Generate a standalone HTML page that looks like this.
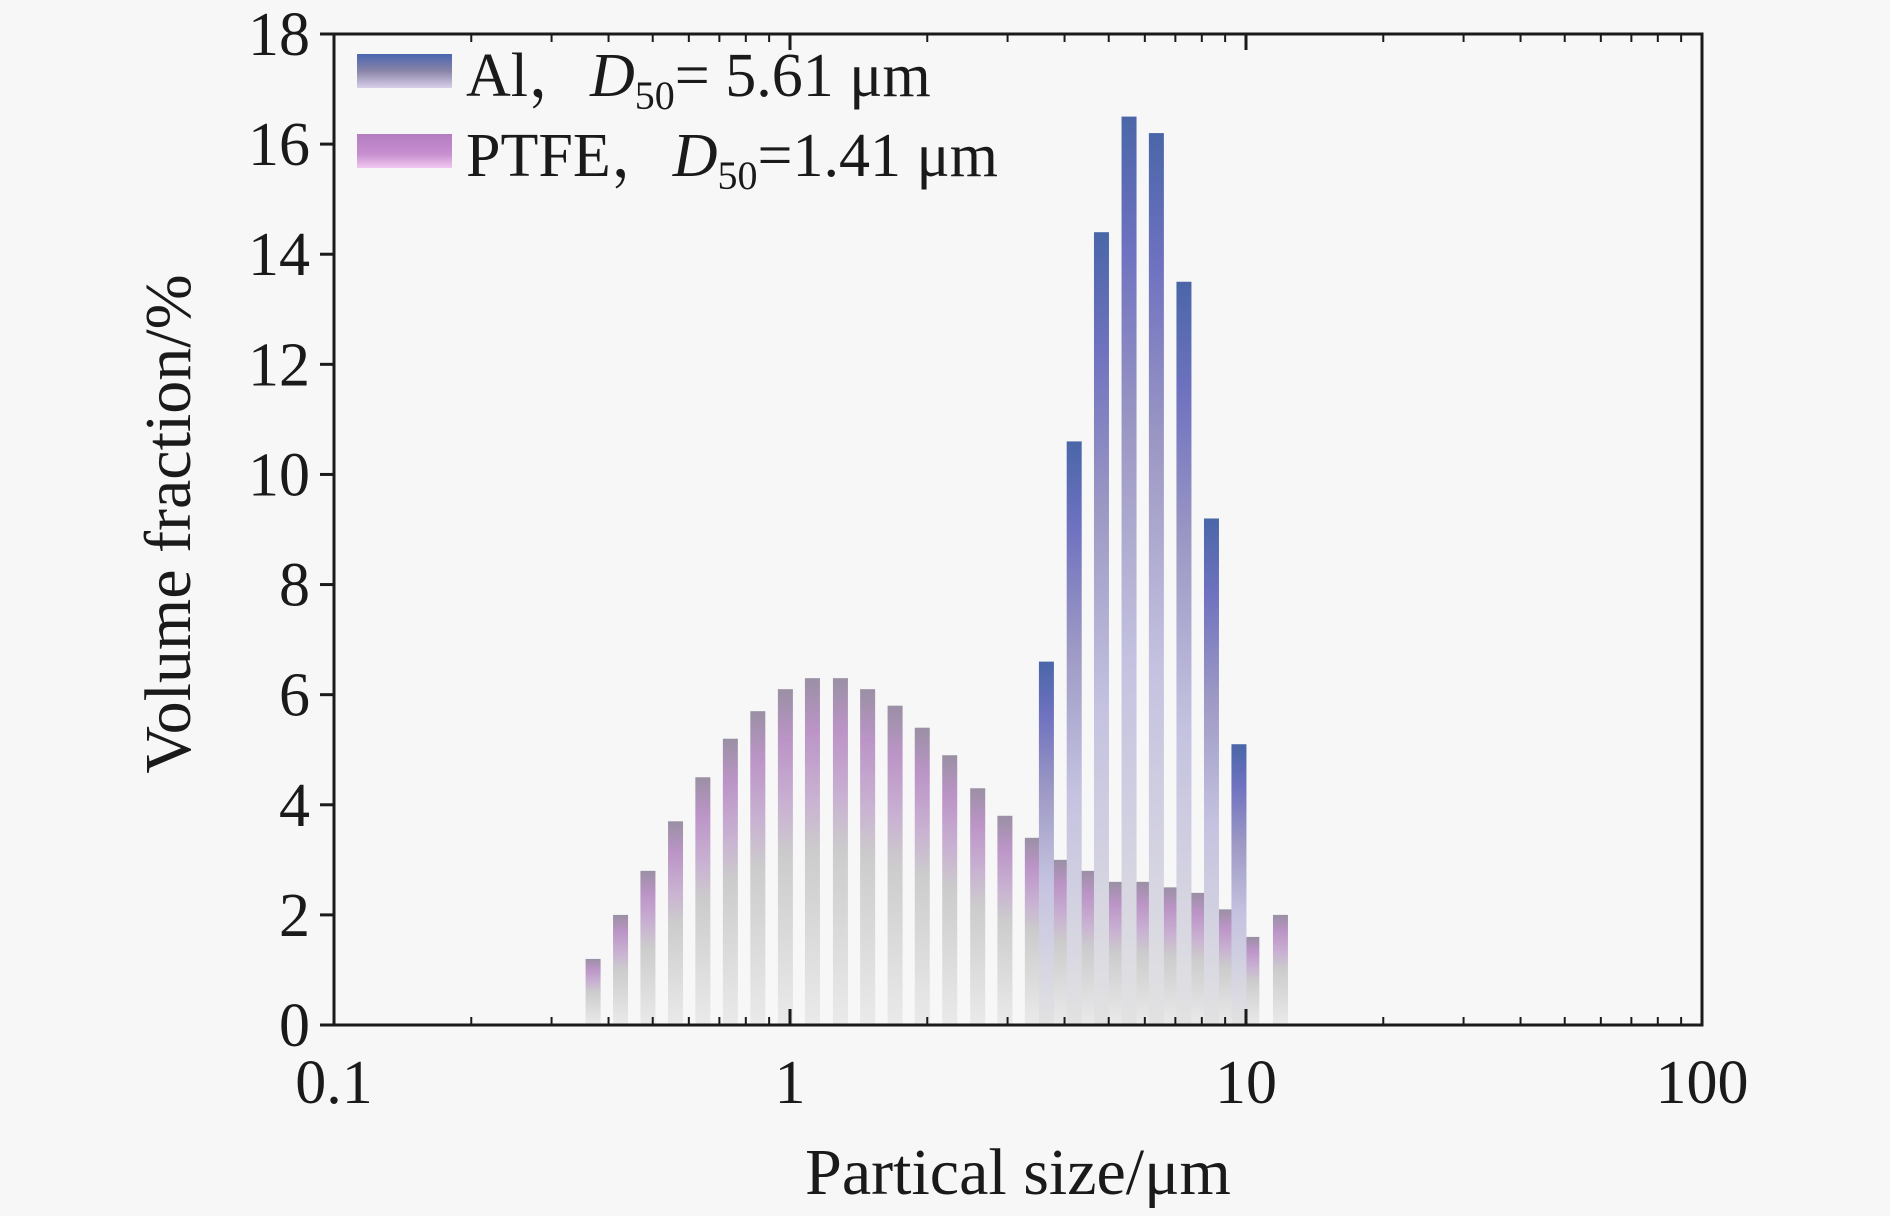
<!DOCTYPE html>
<html><head><meta charset="utf-8"><style>
html,body{margin:0;padding:0;background:#f7f7f7;}
svg{display:block;font-family:"Liberation Serif","Noto Serif CJK SC",serif;}
</style></head><body>
<svg id="chart" width="1890" height="1216" viewBox="0 0 1890 1216" xmlns="http://www.w3.org/2000/svg">
<defs>
<linearGradient id="gP" x1="0" y1="0" x2="0" y2="1">
<stop offset="0" stop-color="#9a90a4"/><stop offset="0.15" stop-color="#bb94c6"/><stop offset="0.35" stop-color="#c9b2d2"/><stop offset="0.5" stop-color="#cccccc"/><stop offset="1" stop-color="#eaeaea"/>
</linearGradient>
<linearGradient id="gA" x1="0" y1="0" x2="0" y2="1">
<stop offset="0" stop-color="#4a66a8"/><stop offset="0.15" stop-color="#6f72c0"/><stop offset="0.35" stop-color="#9c98c4"/><stop offset="0.6" stop-color="#c4c2e0"/><stop offset="1" stop-color="#e2e2e2"/>
</linearGradient>
<linearGradient id="gLA" x1="0" y1="0" x2="0" y2="1">
<stop offset="0" stop-color="#4a66b0"/><stop offset="0.5" stop-color="#8a84a8"/><stop offset="1" stop-color="#d8d0ea"/>
</linearGradient>
<linearGradient id="gLP" x1="0" y1="0" x2="0" y2="1">
<stop offset="0" stop-color="#b27cc0"/><stop offset="0.6" stop-color="#c890d0"/><stop offset="1" stop-color="#f0c8f0"/>
</linearGradient>
</defs>
<g id="bars"></g>
<g id="axes"></g>
<g>
<rect x="357" y="54" width="95" height="34" fill="url(#gLA)"/>
<text x="466" y="96" font-size="62" fill="#1a1a1a">Al，<tspan font-style="italic">D</tspan><tspan font-size="40" dy="13">50</tspan><tspan dy="-13">= 5.61 μm</tspan></text>
<rect x="357" y="134" width="95" height="34" fill="url(#gLP)"/>
<text x="466" y="176" font-size="62" fill="#1a1a1a">PTFE，<tspan font-style="italic">D</tspan><tspan font-size="40" dy="13">50</tspan><tspan dy="-13">=1.41 μm</tspan></text>
</g>
<text x="1018" y="1194" font-size="66" text-anchor="middle" fill="#1a1a1a">Partical size/μm</text>
<text transform="translate(190,524) rotate(-90)" font-size="66" text-anchor="middle" fill="#1a1a1a">Volume fraction/%</text>
</svg>
<script>
const ptfeSizes=[0.37,0.425,0.488,0.561,0.644,0.74,0.85,0.977,1.12,1.29,1.48,1.70,1.95,2.24,2.58,2.96,3.40,3.91,4.49,5.16,5.93,6.81,7.83,8.99,10.3,11.9];
const ptfeValues=[1.2,2.0,2.8,3.7,4.5,5.2,5.7,6.1,6.3,6.3,6.1,5.8,5.4,4.9,4.3,3.8,3.4,3.0,2.8,2.6,2.6,2.5,2.4,2.1,1.6,2.0];
const alSizes=[3.65,4.20,4.82,5.54,6.36,7.31,8.40,9.65];
const alValues=[6.6,10.6,14.4,16.5,16.2,13.5,9.2,5.1];
const yTicks=[0,2,4,6,8,10,12,14,16,18];
const xTicks=[0.1,1,10,100];
const xTickLabels=["0.1","1","10","100"];
const NS="http://www.w3.org/2000/svg";
const L=334,R=1702,T=34,B=1025;
function xs(v){return L+(Math.log10(v)+1)/3*(R-L);}
function ys(v){return B-v/18*(B-T);}
function mk(tag,attrs,parent){const e=document.createElementNS(NS,tag);for(const k in attrs)e.setAttribute(k,attrs[k]);parent.appendChild(e);return e;}
const bars=document.getElementById('bars'),axes=document.getElementById('axes');
const bw=15;
ptfeSizes.forEach((s,i)=>{const r=mk('rect',{x:xs(s)-bw/2,y:ys(ptfeValues[i]),width:bw,height:B-ys(ptfeValues[i]),fill:'url(#gP)'},bars);

});
alSizes.forEach((s,i)=>{const r=mk('rect',{x:xs(s)-bw/2,y:ys(alValues[i]),width:bw,height:B-ys(alValues[i]),fill:'url(#gA)'},bars);

});
const fr=mk('rect',{x:L,y:T,width:R-L,height:B-T,fill:'none',stroke:'#1a1a1a','stroke-width':3},axes);


yTicks.forEach(v=>{const y=ys(v);mk('line',{x1:L-14,x2:L,y1:y,y2:y,stroke:'#1a1a1a','stroke-width':3},axes);
const t=mk('text',{x:L-24,y:y+21,'font-size':62,'text-anchor':'end',fill:'#1a1a1a'},axes);t.textContent=v;

});
xTicks.forEach((v,i)=>{const x=xs(v);mk('line',{x1:x,x2:x,y1:B,y2:B-16,stroke:'#1a1a1a','stroke-width':3},axes);
mk('line',{x1:x,x2:x,y1:T,y2:T+16,stroke:'#1a1a1a','stroke-width':3},axes);
const t=mk('text',{x:x,y:B+78,'font-size':62,'text-anchor':'middle',fill:'#1a1a1a'},axes);t.textContent=xTickLabels[i];


if(i<xTicks.length-1){for(let m=2;m<=9;m++){const xm=xs(v*m);mk('line',{x1:xm,x2:xm,y1:B,y2:B-8,stroke:'#1a1a1a','stroke-width':2},axes);mk('line',{x1:xm,x2:xm,y1:T,y2:T+8,stroke:'#1a1a1a','stroke-width':2},axes);}}});
</script>
</body></html>
